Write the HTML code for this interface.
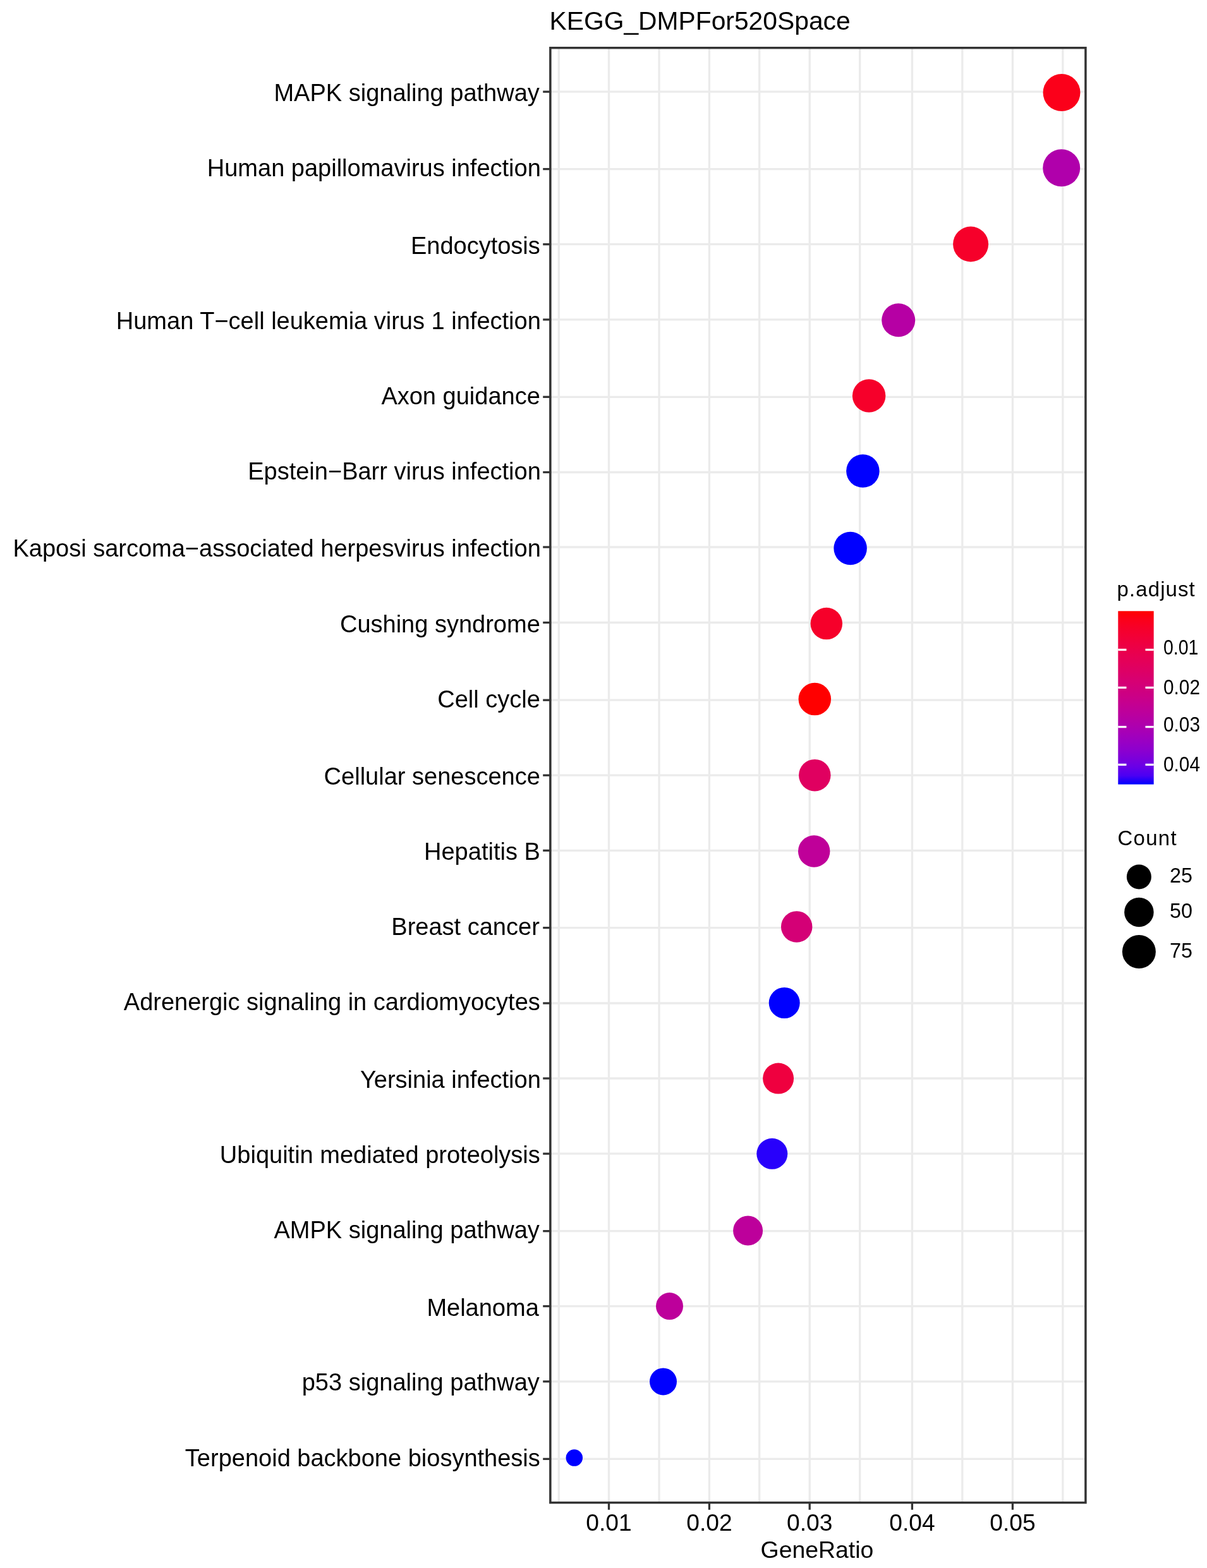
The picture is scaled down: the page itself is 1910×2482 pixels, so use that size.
<!DOCTYPE html><html><head><meta charset="utf-8"><title>KEGG_DMPFor520Space</title><style>html,body{margin:0;padding:0;background:#fff;overflow:hidden;width:1910px;height:2482px;}svg{display:block;}text{font-family:"Liberation Sans",Arial,sans-serif;fill:#000;}</style></head><body>
<svg width="1910" height="2482" viewBox="0 0 1910 2482">
<rect width="1910" height="2482" fill="#fff"/>
<g stroke="#EBEBEB" stroke-width="3.3">
<line x1="884.3" y1="77" x2="884.3" y2="2377"/>
<line x1="963.5" y1="77" x2="963.5" y2="2377"/>
<line x1="1043" y1="77" x2="1043" y2="2377"/>
<line x1="1122.4" y1="77" x2="1122.4" y2="2377"/>
<line x1="1201.7" y1="77" x2="1201.7" y2="2377"/>
<line x1="1281.2" y1="77" x2="1281.2" y2="2377"/>
<line x1="1360.7" y1="77" x2="1360.7" y2="2377"/>
<line x1="1443.4" y1="77" x2="1443.4" y2="2377"/>
<line x1="1522.8" y1="77" x2="1522.8" y2="2377"/>
<line x1="1602.4" y1="77" x2="1602.4" y2="2377"/>
<line x1="1681.8" y1="77" x2="1681.8" y2="2377"/>
<line x1="872" y1="145.2" x2="1716" y2="145.2"/>
<line x1="872" y1="267.6" x2="1716" y2="267.6"/>
<line x1="872" y1="386.7" x2="1716" y2="386.7"/>
<line x1="872" y1="505.9" x2="1716" y2="505.9"/>
<line x1="872" y1="628.3" x2="1716" y2="628.3"/>
<line x1="872" y1="747.5" x2="1716" y2="747.5"/>
<line x1="872" y1="866.0" x2="1716" y2="866.0"/>
<line x1="872" y1="985.5" x2="1716" y2="985.5"/>
<line x1="872" y1="1108.2" x2="1716" y2="1108.2"/>
<line x1="872" y1="1227.2" x2="1716" y2="1227.2"/>
<line x1="872" y1="1346.3" x2="1716" y2="1346.3"/>
<line x1="872" y1="1468.6" x2="1716" y2="1468.6"/>
<line x1="872" y1="1588.0" x2="1716" y2="1588.0"/>
<line x1="872" y1="1707.0" x2="1716" y2="1707.0"/>
<line x1="872" y1="1826.2" x2="1716" y2="1826.2"/>
<line x1="872" y1="1948.7" x2="1716" y2="1948.7"/>
<line x1="872" y1="2067.6" x2="1716" y2="2067.6"/>
<line x1="872" y1="2186.8" x2="1716" y2="2186.8"/>
<line x1="872" y1="2309.4" x2="1716" y2="2309.4"/>
</g>
<circle cx="1680.0" cy="146.6" r="29.5" fill="#FB001A"/>
<circle cx="1679.7" cy="265.8" r="29.5" fill="#B000AB"/>
<circle cx="1536.1" cy="386.5" r="28.0" fill="#F6002A"/>
<circle cx="1421.7" cy="506.8" r="26.5" fill="#B600A4"/>
<circle cx="1375.1" cy="626.5" r="26.25" fill="#F6002A"/>
<circle cx="1365.4" cy="745.6" r="26.25" fill="#0000FF"/>
<circle cx="1345.6" cy="867.9" r="26.25" fill="#0000FF"/>
<circle cx="1307.8" cy="987.1" r="25.25" fill="#F6002A"/>
<circle cx="1289.3" cy="1106.6" r="25.75" fill="#FF0000"/>
<circle cx="1289.3" cy="1227.2" r="25.25" fill="#E00060"/>
<circle cx="1288.2" cy="1347.5" r="25.25" fill="#BF0099"/>
<circle cx="1260.7" cy="1466.9" r="24.75" fill="#D40076"/>
<circle cx="1241.2" cy="1587.5" r="24.5" fill="#0000FF"/>
<circle cx="1231.6" cy="1707.1" r="24.5" fill="#EF003F"/>
<circle cx="1221.8" cy="1826.3" r="24.5" fill="#2800FB"/>
<circle cx="1183.6" cy="1948" r="23.5" fill="#BD009B"/>
<circle cx="1059.5" cy="2067.6" r="21.5" fill="#BD009B"/>
<circle cx="1049.5" cy="2186.9" r="21.5" fill="#0000FF"/>
<circle cx="908.8" cy="2307.6" r="13.25" fill="#0000FF"/>
<rect x="870.85" y="75.75" width="847.05" height="2302.8" fill="none" stroke="#333333" stroke-width="3.5"/>
<g stroke="#333333" stroke-width="3.3">
<line x1="859.2" y1="145.2" x2="870" y2="145.2"/>
<line x1="859.2" y1="267.6" x2="870" y2="267.6"/>
<line x1="859.2" y1="386.7" x2="870" y2="386.7"/>
<line x1="859.2" y1="505.9" x2="870" y2="505.9"/>
<line x1="859.2" y1="628.3" x2="870" y2="628.3"/>
<line x1="859.2" y1="747.5" x2="870" y2="747.5"/>
<line x1="859.2" y1="866.0" x2="870" y2="866.0"/>
<line x1="859.2" y1="985.5" x2="870" y2="985.5"/>
<line x1="859.2" y1="1108.2" x2="870" y2="1108.2"/>
<line x1="859.2" y1="1227.2" x2="870" y2="1227.2"/>
<line x1="859.2" y1="1346.3" x2="870" y2="1346.3"/>
<line x1="859.2" y1="1468.6" x2="870" y2="1468.6"/>
<line x1="859.2" y1="1588.0" x2="870" y2="1588.0"/>
<line x1="859.2" y1="1707.0" x2="870" y2="1707.0"/>
<line x1="859.2" y1="1826.2" x2="870" y2="1826.2"/>
<line x1="859.2" y1="1948.7" x2="870" y2="1948.7"/>
<line x1="859.2" y1="2067.6" x2="870" y2="2067.6"/>
<line x1="859.2" y1="2186.8" x2="870" y2="2186.8"/>
<line x1="859.2" y1="2309.4" x2="870" y2="2309.4"/>
<line x1="963.5" y1="2379" x2="963.5" y2="2389.8"/>
<line x1="1122.4" y1="2379" x2="1122.4" y2="2389.8"/>
<line x1="1281.2" y1="2379" x2="1281.2" y2="2389.8"/>
<line x1="1443.4" y1="2379" x2="1443.4" y2="2389.8"/>
<line x1="1602.4" y1="2379" x2="1602.4" y2="2389.8"/>
</g>
<text x="853.8" y="160.0" font-size="38" text-anchor="end">MAPK signaling pathway</text>
<text x="855.8" y="278.9" font-size="38" text-anchor="end">Human papillomavirus infection</text>
<text x="854.8" y="401.6" font-size="38" text-anchor="end">Endocytosis</text>
<text x="855.8" y="520.7" font-size="38" text-anchor="end">Human T−cell leukemia virus 1 infection</text>
<text x="854.8" y="639.8" font-size="38" text-anchor="end">Axon guidance</text>
<text x="855.8" y="758.9" font-size="38" text-anchor="end">Epstein−Barr virus infection</text>
<text x="855.8" y="880.7" font-size="38" text-anchor="end">Kaposi sarcoma−associated herpesvirus infection</text>
<text x="854.8" y="1000.7" font-size="38" text-anchor="end">Cushing syndrome</text>
<text x="854.8" y="1119.7" font-size="38" text-anchor="end">Cell cycle</text>
<text x="854.8" y="1241.8" font-size="38" text-anchor="end">Cellular senescence</text>
<text x="854.8" y="1360.7" font-size="38" text-anchor="end">Hepatitis B</text>
<text x="853.8" y="1480.0" font-size="38" text-anchor="end">Breast cancer</text>
<text x="854.8" y="1599.4" font-size="38" text-anchor="end">Adrenergic signaling in cardiomyocytes</text>
<text x="855.8" y="1721.8" font-size="38" text-anchor="end">Yersinia infection</text>
<text x="854.8" y="1840.7" font-size="38" text-anchor="end">Ubiquitin mediated proteolysis</text>
<text x="853.8" y="1959.8" font-size="38" text-anchor="end">AMPK signaling pathway</text>
<text x="852.8" y="2082.5" font-size="38" text-anchor="end">Melanoma</text>
<text x="853.8" y="2201.4" font-size="38" text-anchor="end">p53 signaling pathway</text>
<text x="854.8" y="2320.7" font-size="38" text-anchor="end">Terpenoid backbone biosynthesis</text>
<text x="963.5" y="2423.2" font-size="37.2" text-anchor="middle">0.01</text>
<text x="1122.4" y="2423.2" font-size="37.2" text-anchor="middle">0.02</text>
<text x="1281.2" y="2423.2" font-size="37.2" text-anchor="middle">0.03</text>
<text x="1443.4" y="2423.2" font-size="37.2" text-anchor="middle">0.04</text>
<text x="1602.4" y="2423.2" font-size="37.2" text-anchor="middle">0.05</text>
<text x="1293" y="2466.2" font-size="37.4" text-anchor="middle">GeneRatio</text>
<text x="869.5" y="47.1" font-size="40.8">KEGG_DMPFor520Space</text>
<text x="1767.6" y="944.2" font-size="33" letter-spacing="1.08">p.adjust</text>
<defs><linearGradient id="cb" x1="0" y1="0" x2="0" y2="1"><stop offset="0.00" stop-color="#FF0000"/><stop offset="0.05" stop-color="#FB001A"/><stop offset="0.10" stop-color="#F6002A"/><stop offset="0.15" stop-color="#F20037"/><stop offset="0.20" stop-color="#ED0044"/><stop offset="0.25" stop-color="#E80050"/><stop offset="0.30" stop-color="#E3005B"/><stop offset="0.35" stop-color="#DD0066"/><stop offset="0.40" stop-color="#D70072"/><stop offset="0.45" stop-color="#D0007D"/><stop offset="0.50" stop-color="#CA0088"/><stop offset="0.55" stop-color="#C20094"/><stop offset="0.60" stop-color="#BA009F"/><stop offset="0.65" stop-color="#B000AB"/><stop offset="0.70" stop-color="#A600B7"/><stop offset="0.75" stop-color="#9A00C3"/><stop offset="0.80" stop-color="#8D00CE"/><stop offset="0.85" stop-color="#7C00DA"/><stop offset="0.90" stop-color="#6800E7"/><stop offset="0.95" stop-color="#4B00F3"/><stop offset="1.00" stop-color="#0000FF"/></linearGradient></defs>
<rect x="1769.3" y="967.3" width="56.4" height="274.3" fill="url(#cb)"/>
<g stroke="#fff" stroke-width="3.3">
<line x1="1769.3" y1="1028.5" x2="1782.5" y2="1028.5"/><line x1="1812.5" y1="1028.5" x2="1825.7" y2="1028.5"/>
<line x1="1769.3" y1="1088.4" x2="1782.5" y2="1088.4"/><line x1="1812.5" y1="1088.4" x2="1825.7" y2="1088.4"/>
<line x1="1769.3" y1="1150.6" x2="1782.5" y2="1150.6"/><line x1="1812.5" y1="1150.6" x2="1825.7" y2="1150.6"/>
<line x1="1769.3" y1="1210.4" x2="1782.5" y2="1210.4"/><line x1="1812.5" y1="1210.4" x2="1825.7" y2="1210.4"/>
</g>
<text x="1841.0" y="1036.4" font-size="32.4" transform="translate(1841.0 0) scale(0.88 1) translate(-1841.0 0)">0.01</text>
<text x="1841.0" y="1099.0" font-size="32.4" transform="translate(1841.0 0) scale(0.92 1) translate(-1841.0 0)">0.02</text>
<text x="1841.0" y="1158.4" font-size="32.4" transform="translate(1841.0 0) scale(0.92 1) translate(-1841.0 0)">0.03</text>
<text x="1841.0" y="1221.0" font-size="32.4" transform="translate(1841.0 0) scale(0.92 1) translate(-1841.0 0)">0.04</text>
<text x="1768.4" y="1337.6" font-size="33" letter-spacing="1.3">Count</text>
<circle cx="1802.4" cy="1387.9" r="19.5" fill="#000"/>
<text x="1851.0" y="1397.1" font-size="32.4">25</text>
<circle cx="1802.4" cy="1443.9" r="23.25" fill="#000"/>
<text x="1851.0" y="1453.3" font-size="32.4">50</text>
<circle cx="1802.4" cy="1506.5" r="26.5" fill="#000"/>
<text x="1851.0" y="1515.8" font-size="32.4">75</text>
</svg></body></html>
